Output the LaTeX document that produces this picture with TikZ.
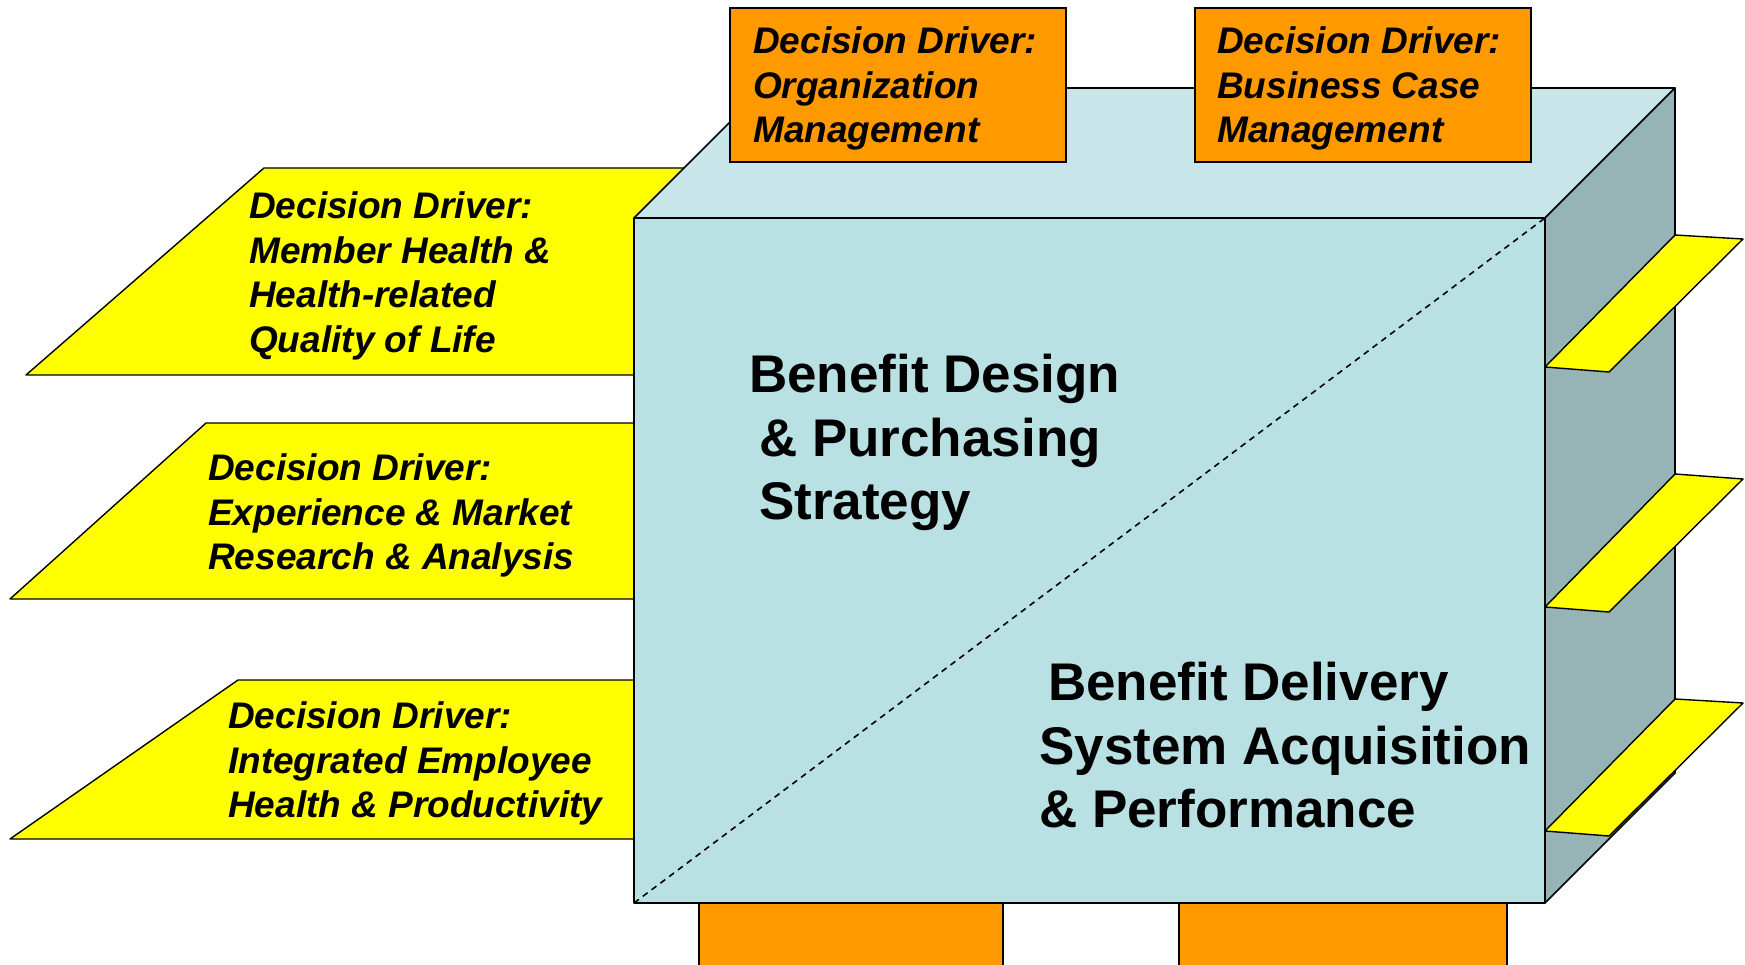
\documentclass[tikz,border=0pt]{standalone}
\usepackage{fontspec}
\setmainfont{Liberation Sans}
\definecolor{frontc}{RGB}{185,224,227}
\definecolor{topc}{RGB}{200,230,233}
\definecolor{sidec}{RGB}{150,179,182}
\definecolor{orangec}{RGB}{255,153,0}
\definecolor{yellowc}{RGB}{255,255,0}
\tikzset{
  face/.style={draw=black, line width=1.6pt, line join=round},
  shelf/.style={fill=yellowc, draw=black, line width=1.4pt, line join=round},
  obox/.style={fill=orangec, draw=black, line width=1.4pt},
  drvtext/.style={font=\fontsize{37}{44.6}\selectfont\bfseries\itshape, align=left, anchor=north west, inner sep=0pt},
  maintext/.style={font=\fontsize{53}{63.4}\selectfont\bfseries, align=left, anchor=north west, inner sep=0pt},
}
\begin{document}
\begin{tikzpicture}[x=1pt,y=-1pt]
\useasboundingbox (0,0) rectangle (1745,965);
\clip (0,0) rectangle (1745,965);
% left shelves (behind the cube)
\draw[shelf] (26,375) -- (264,168) -- (700,168) -- (700,375) -- cycle;
\draw[shelf] (10,599) -- (206,423) -- (640,423) -- (640,599) -- cycle;
\draw[shelf] (10,839) -- (238,680) -- (640,680) -- (640,839) -- cycle;
% bottom orange boxes
\draw[obox] (699,903) rectangle (1003,990);
\draw[obox] (1179,903) rectangle (1507,990);
% cube
\coordinate (fl) at (634,218);
\coordinate (fr) at (1545,218);
\coordinate (bl) at (634,903);
\coordinate (br) at (1545,903);
\coordinate (tbl) at (764,88);
\coordinate (tbr) at (1675,88);
\coordinate (sbr) at (1675,773);
\draw[face, fill=topc] (fl) -- (tbl) -- (tbr) -- (fr) -- cycle;
\draw[face, fill=sidec] (fr) -- (tbr) -- (sbr) -- (br) -- cycle;
\draw[face, fill=frontc] (fl) rectangle (br);
\draw[line width=1.6pt, dash pattern=on 6pt off 5pt] (bl) -- (fr);
% right tabs
\draw[shelf] (1545,367) -- (1675,235) -- (1743,239) -- (1609,372) -- cycle;
\draw[shelf] (1545,607) -- (1675,474) -- (1743,479) -- (1609,612) -- cycle;
\draw[shelf] (1545,831) -- (1675,699) -- (1743,703) -- (1609,836) -- cycle;
% top orange boxes
\draw[obox] (730,8) rectangle (1066,162);
\draw[obox] (1195,8) rectangle (1531,162);
% texts
\node[drvtext] (o1) at (753,26.5) {Decision Driver:\\Organization\\Management};
\node[drvtext] (o2) at (1217,26.5) {Decision Driver:\\Business Case\\Management};
\node[drvtext] (y1) at (249,191.5) {Decision Driver:\\Member Health \&\\Health-related\\Quality of Life};
\node[drvtext] (y2) at (208,453.5) {Decision Driver:\\Experience \& Market\\Research \& Analysis};
\node[drvtext] (y3) at (228,701.5) {Decision Driver:\\Integrated Employee\\Health \& Productivity};
\node[maintext] (m1) at (749,354) {Benefit Design\\\hspace*{10pt}\& Purchasing\\\hspace*{10pt}Strategy};
\node[maintext] (m2) at (1039,662) {\hspace*{9pt}Benefit Delivery\\System Acquisition\\\& Performance};
\end{tikzpicture}
\end{document}
